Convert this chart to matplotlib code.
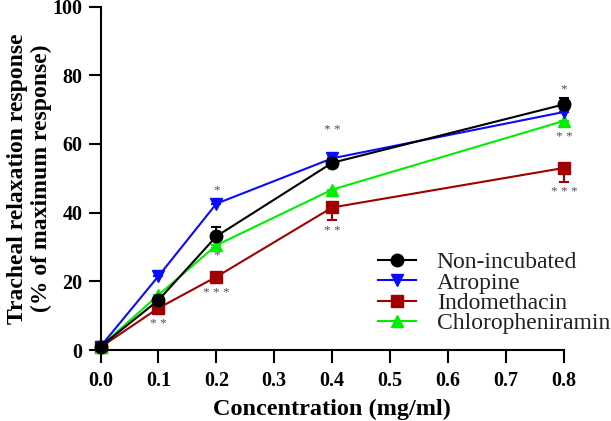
import numpy as np
import matplotlib.pyplot as plt
from matplotlib.lines import Line2D

conc = [0.0, 0.1, 0.2, 0.4, 0.8]

non_inc = [1.0, 14.5, 33.1, 54.5, 71.5]
non_inc_up = [0, 0, 2.7, 0.8, 1.9]
atropine = [1.0, 21.5, 42.6, 55.8, 69.3]
atropine_up = [0, 0, 0, 1.0, 0.8]
indo = [0.8, 12.2, 21.3, 41.5, 53.0]
indo_low = [0, 0, 0, 3.7, 4.1]
chloro = [1.0, 16.0, 30.5, 46.7, 66.7]
chloro_low = [0, 0, 0.8, 1.7, 1.7]

labels = ['Non-incubated', 'Atropine', 'Indomethacin', 'Chloropheniramin']

# significance marks: (x, y, text)
stars = [(0.1, 7.5, '* *'), (0.2, 46.5, '*'), (0.2, 27.5, '*'), (0.2, 16.5, '* * *'),
         (0.4, 64.0, '* *'), (0.4, 34.5, '* *'),
         (0.8, 76.0, '*'), (0.8, 62.0, '* *'), (0.8, 46.0, '* * *')]

plt.rcParams['font.family'] = ['Liberation Serif', 'DejaVu Serif']

fig = plt.figure(figsize=(6.11, 4.21), dpi=100)
ax = fig.add_axes([100.5/611, 1-350/421, (564-100.5)/611, (350-6.5)/421])

lw = 1.5
styles = [('black', 'o', 9), ('#0a0aff', 'v', 9), ('#a00000', 's', 8), ('#00ee00', '^', 9)]
z = np.zeros(5)
series = [(non_inc, [z, non_inc_up], 6), (atropine, [z, atropine_up], 5),
          (indo, [indo_low, z], 3), (chloro, [chloro_low, z], 4)]
for (vals, err, zo), (c, m, ms) in zip(series, styles):
    ax.errorbar(conc, vals, yerr=err, color=c, marker=m, ms=ms, lw=lw,
                capsize=3.5, capthick=lw, elinewidth=lw, zorder=zo, clip_on=False)

for x, y, t in stars:
    ax.text(x, y, t, ha='center', va='center', fontsize=9.5, color='#505050')

ax.set_xlim(0, 0.8)
ax.set_ylim(0, 100)
ax.set_xticks(np.arange(0, 0.81, 0.1))
ax.set_yticks(range(0, 101, 20))
ax.set_xticklabels(['%.1f' % v for v in np.arange(0, 0.81, 0.1)])
for lab in ax.get_xticklabels() + ax.get_yticklabels():
    lab.set_fontweight('bold')
    lab.set_fontsize(14.5)
ax.tick_params(length=9, width=1.5, pad=4)
ax.tick_params(axis='x', pad=6)
ax.spines['top'].set_visible(False)
ax.spines['right'].set_visible(False)
for s in ['left', 'bottom']:
    ax.spines[s].set_linewidth(1.5)

ax.set_xlabel('Concentration (mg/ml)', fontsize=17.5, fontweight='bold')
ax.xaxis.set_label_coords(0.5, -49 / 343.5)
ax.set_ylabel('Tracheal relaxation response\n(% of maximum response)', fontsize=17,
              fontweight='bold')
ax.yaxis.set_label_coords(-(100.5 - 52) / 463.5, 0.5)

handles = [Line2D([], [], color=c, marker=m, ms=ms, lw=lw) for c, m, ms in styles]
leg = fig.legend(handles, labels, loc='upper left',
                 bbox_to_anchor=(366/611, 1-240/421), frameon=False, fontsize=17,
                 handlelength=1.6, handletextpad=0.9, labelspacing=-0.05, borderpad=0)
for t in leg.get_texts():
    t.set_color('#202020')

fig.savefig('out.png', dpi=100)
